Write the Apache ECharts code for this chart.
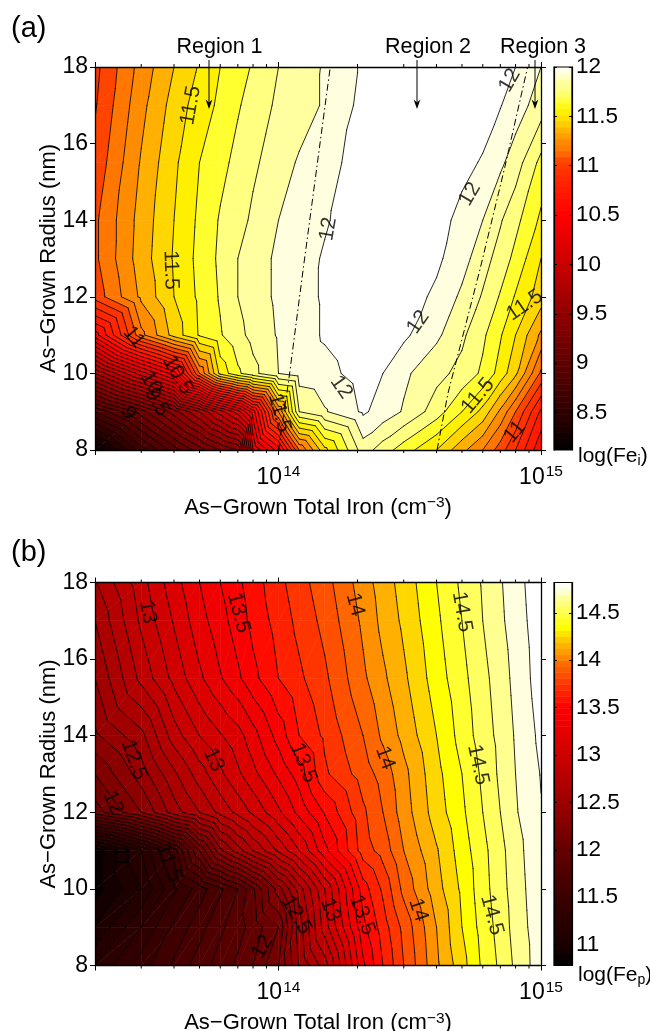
<!DOCTYPE html>
<html><head><meta charset="utf-8">
<style>html,body{margin:0;padding:0;background:#fff}#c{width:650px;height:1031px}</style>
<script src="https://cdn.jsdelivr.net/npm/echarts@6/dist/echarts.min.js"></script>
</head><body><div id="c"></div>
<script>
const irons = [2e13,3e13,4e13,5e13,6e13,7e13,8e13,1e14,1.2e14,1.5e14,2.1e14,2.5e14,3e14,4e14,5e14,6e14,7e14,8e14,1e15];
const radii = [8,9,10,11,12,13,14,15.5,17,18];
const feI = [
[8.15,8.65,8.95,9.15,9.3,9.4,10.2,10.55,11.1,11.47,11.85,11.75,11.65,11.5,11.33,11.2,11.05,10.9,10.62],
[8.8,9.15,9.45,9.7,9.95,10.15,10.45,11.2,11.8,11.89,12.015,11.96,11.89,11.75,11.6,11.47,11.28,11.1,10.78],
[9.7,10.15,10.45,11.1,11.53,11.68,11.77,11.9,11.95,11.97,12.04,12.0,11.92,11.83,11.77,11.68,11.56,11.42,11.08],
[10.55,11.17,11.44,11.61,11.69,11.77,11.83,11.91,11.96,12.01,12.06,12.05,12.02,11.92,11.82,11.72,11.61,11.5,11.28],
[11.04,11.32,11.5,11.62,11.71,11.8,11.85,11.92,11.97,12.01,12.06,12.07,12.05,11.98,11.88,11.79,11.69,11.59,11.45],
[11.08,11.35,11.51,11.63,11.72,11.8,11.85,11.92,11.96,12.01,12.07,12.08,12.07,12.02,11.94,11.84,11.76,11.67,11.5],
[11.08,11.34,11.5,11.62,11.71,11.76,11.82,11.9,11.94,11.99,12.06,12.08,12.08,12.04,11.97,11.9,11.81,11.73,11.58],
[11.03,11.31,11.48,11.6,11.67,11.73,11.78,11.86,11.91,11.96,12.05,12.08,12.09,12.09,12.03,11.99,11.92,11.85,11.67],
[10.99,11.27,11.44,11.55,11.62,11.69,11.74,11.82,11.86,11.91,12.03,12.06,12.08,12.09,12.09,12.05,12.005,11.95,11.85],
[10.97,11.24,11.4,11.51,11.6,11.66,11.71,11.8,11.85,11.91,12.015,12.05,12.08,12.08,12.08,12.06,12.03,12.0,11.9]
];
const feP = [
[11.2,11.45,11.62,11.75,11.84,11.92,12.0,12.2,12.51,12.75,13.38,13.6,13.8,14.08,14.26,14.42,14.52,14.62,14.76],
[11.0,11.3,11.52,11.66,11.78,11.86,11.94,12.1,12.55,12.95,13.47,13.65,13.83,14.1,14.3,14.44,14.54,14.64,14.765],
[10.85,11.1,11.38,11.55,11.68,11.8,11.98,12.35,12.65,13.0,13.55,13.72,13.93,14.16,14.32,14.46,14.56,14.65,14.775],
[10.82,11.2,11.55,12.0,12.37,12.55,12.7,12.92,13.1,13.37,13.75,13.84,14.0,14.19,14.35,14.47,14.57,14.66,14.785],
[12.05,12.3,12.55,12.7,12.83,12.93,13.02,13.18,13.33,13.51,13.78,13.9,14.05,14.25,14.38,14.5,14.6,14.69,14.795],
[12.2,12.45,12.68,12.85,12.98,13.08,13.17,13.32,13.45,13.68,13.85,13.94,14.07,14.27,14.4,14.52,14.62,14.7,14.805],
[12.38,12.57,12.85,13.0,13.09,13.16,13.26,13.44,13.6,13.72,13.9,14.02,14.13,14.3,14.44,14.55,14.63,14.71,14.825],
[12.5,12.83,13.03,13.18,13.29,13.38,13.47,13.6,13.68,13.78,13.98,14.08,14.18,14.35,14.47,14.57,14.65,14.73,14.85],
[12.6,12.92,13.11,13.26,13.36,13.45,13.53,13.64,13.73,13.83,14.02,14.13,14.22,14.38,14.5,14.6,14.68,14.75,14.86],
[12.69,12.96,13.16,13.3,13.4,13.48,13.55,13.67,13.76,13.86,14.05,14.15,14.24,14.4,14.52,14.61,14.69,14.76,14.87]
];
const levelsI = [8.2,8.3,8.4,8.5,8.6,8.7,8.8,8.9,9,9.1,9.2,9.3,9.4,9.5,9.6,9.7,9.8,9.9,10,10.1,10.2,10.3,10.4,10.5,10.6,10.7,10.8,10.9,11,11.1,11.2,11.3,11.4,11.5,11.6,11.7,11.8,11.9,12];
const levelsP = [10.8,10.9,11,11.1,11.2,11.3,11.4,11.5,11.6,11.7,11.8,11.9,12,12.1,12.2,12.3,12.4,12.5,12.6,12.7,12.8,12.9,13,13.1,13.2,13.3,13.4,13.5,13.6,13.7,13.8,13.9,14,14.1,14.2,14.3,14.4,14.5,14.6,14.7,14.8];
const stopsI = [[8.12,'#000000'],[8.5,'#2e0000'],[9,'#5e0000'],[9.5,'#900000'],[10,'#c80000'],[10.5,'#ff0000'],[10.9,'#ff2a00'],[11.05,'#ff4400'],[11.15,'#ff7700'],[11.25,'#ff8c00'],[11.35,'#ffb000'],[11.45,'#ffd700'],[11.55,'#fff000'],[11.65,'#ffff30'],[11.75,'#ffff80'],[11.85,'#ffffa0'],[11.95,'#ffffe0'],[12,'#ffffff']];
const stopsP = [[10.78,'#000000'],[11,'#1a0000'],[11.5,'#3a0000'],[12,'#640000'],[12.5,'#9c0000'],[13,'#cc0000'],[13.5,'#ff0000'],[13.75,'#ff3500'],[13.85,'#ff5000'],[13.95,'#ff6600'],[14.05,'#ff9000'],[14.15,'#ffb000'],[14.25,'#ffd700'],[14.35,'#ffff00'],[14.45,'#ffff30'],[14.55,'#ffff60'],[14.65,'#ffff90'],[14.75,'#ffffe0'],[14.82,'#ffffff']];
const minorIrons = [3e13,4e13,5e13,6e13,7e13,8e13,9e13,2e14,3e14,4e14,5e14,6e14,7e14,8e14,9e14];
const barTicksI = [8.5,9,9.5,10,10.5,11,11.5,12];
const barTicksP = [11,11.5,12,12.5,13,13.5,14,14.5];
// [log10(iron), radius, text, rotation]
const labelsI = [
[13.666,17.0,'11.5',80],[13.59,12.7,'11.5',-88],[14.19,13.77,'12',80],[14.881,17.65,'12',60],
[14.729,14.68,'12',60],[14.532,11.34,'12',55],[14.239,9.64,'12',-55],[13.449,10.95,'11',-50],
[13.616,9.96,'10.5',-60],[13.514,9.75,'10',-60],[13.537,9.25,'9.5',-60],[13.427,8.97,'9',-60],
[14.76,9.41,'11.5',50],[14.938,11.78,'11.5',35],[14.90,8.47,'11',50],[14.004,8.97,'11.5',-75]];
const labelsP = [
[13.502,17.23,'13',-80],[13.848,17.21,'13.5',-75],[14.292,17.42,'14',-75],[14.699,17.23,'14.5',-80],
[13.449,13.37,'12.5',-70],[13.753,13.37,'13',-65],[14.095,13.29,'13.5',-68],[14.406,13.42,'14',-70],
[14.76,13.24,'14.5',-78],[13.37,12.25,'12',-65],[13.401,10.84,'11',-90],[13.582,10.68,'11.5',-70],
[14.068,9.32,'12.5',-60],[14.197,9.45,'13',-70],[14.319,9.32,'13.5',-70],[14.532,9.45,'14',-72],
[14.813,9.32,'14.5',-75],[13.939,8.49,'12',60]];
// region boundaries: [log10(iron), radius]
const boundaryLeft = [[14,8],[14.038,9.77],[14.095,12.77],[14.197,17.99]];
const boundaryRight = [[14.604,8],[14.646,9.49],[14.767,12.7],[14.862,15.38],[14.949,18]];
const regionNames = ['Region 1','Region 2','Region 3'];

const FONT = '"Liberation Sans", Arial, sans-serif';
function hex(c){return [1,3,5].map(i=>parseInt(c.substr(i,2),16));}
function colorAt(stops,v){
  if(v<=stops[0][0]) return stops[0][1];
  for(let i=1;i<stops.length;i++){
    if(v<=stops[i][0]){
      const t=(v-stops[i-1][0])/(stops[i][0]-stops[i-1][0]);
      const a=hex(stops[i-1][1]),b=hex(stops[i][1]);
      return 'rgb('+a.map((x,k)=>Math.round(x+(b[k]-x)*t)).join(',')+')';
    }
  }
  return stops[stops.length-1][1];
}
function triangles(vals){
  const out=[];
  const P=(i,j)=>[Math.log10(irons[i]),radii[j],vals[j][i]];
  for(let j=0;j<radii.length-1;j++)for(let i=0;i<irons.length-1;i++){
    out.push([P(i,j),P(i+1,j),P(i+1,j+1)]);
    out.push([P(i,j),P(i+1,j+1),P(i,j+1)]);
  }
  return out;
}
function lerp(a,b,L){const t=(L-a[2])/(b[2]-a[2]);return [a[0]+(b[0]-a[0])*t,a[1]+(b[1]-a[1])*t,L];}
function clip(poly,L,keepAbove){
  const r=[];
  for(let i=0;i<poly.length;i++){
    const a=poly[i],b=poly[(i+1)%poly.length];
    const ia=keepAbove?a[2]>=L:a[2]<=L, ib=keepAbove?b[2]>=L:b[2]<=L;
    if(ia) r.push(a);
    if(ia!==ib) r.push(lerp(a,b,L));
  }
  return r;
}
function segment(tri,L){
  const pts=[];
  for(let i=0;i<3;i++){
    const a=tri[i],b=tri[(i+1)%3];
    if((a[2]>=L)!==(b[2]>=L)) pts.push(lerp(a,b,L));
  }
  return pts.length===2?pts:null;
}
function contourSeries(vals,levels,stops,xi,yi){
  const tris=triangles(vals);
  return {
    type:'custom',xAxisIndex:xi,yAxisIndex:yi,clip:true,silent:true,z:2,
    data:[[irons[0],radii[0]]],
    renderItem(params,api){
      const pt=p=>api.coord([Math.pow(10,p[0]),p[1]]);
      const ch=[];
      for(let b=0;b<=levels.length;b++){
        const lo=b>0?levels[b-1]:-Infinity, hi=b<levels.length?levels[b]:Infinity;
        const mid=b===0?levels[0]-0.05:(b===levels.length?levels[b-1]+1:(lo+hi)/2);
        const col=colorAt(stops,mid);
        tris.forEach(t=>{
          let poly=t;
          if(lo!==-Infinity) poly=clip(poly,lo,true);
          if(poly.length&&hi!==Infinity) poly=clip(poly,hi,false);
          if(poly.length>2) ch.push({type:'polygon',shape:{points:poly.map(pt)},style:{fill:col,stroke:col,lineWidth:0.6}});
        });
      }
      levels.forEach(L=>{
        tris.forEach(t=>{
          const s=segment(t,L);
          if(s){const a=pt(s[0]),b=pt(s[1]);
            ch.push({type:'line',shape:{x1:a[0],y1:a[1],x2:b[0],y2:b[1]},style:{stroke:'#000',lineWidth:0.85,lineCap:'round'}});}
        });
      });
      return {type:'group',children:ch};
    }
  };
}
function minorTickSeries(xi,yi){
  return {type:'custom',xAxisIndex:xi,yAxisIndex:yi,clip:false,silent:true,z:9,
    data:minorIrons.map(v=>[v,radii[0]]),
    renderItem(params,api){
      const v=api.value(0),b=api.coord([v,8]),t=api.coord([v,18]);
      const st={stroke:'#000',lineWidth:1};
      return {type:'group',children:[
        {type:'line',shape:{x1:b[0],y1:b[1],x2:b[0],y2:b[1]+3},style:st},
        {type:'line',shape:{x1:t[0],y1:t[1],x2:t[0],y2:t[1]-3},style:st}]};
    }};
}
function labelSeries(list,xi,yi){
  return {type:'scatter',xAxisIndex:xi,yAxisIndex:yi,symbolSize:0,z:6,silent:true,clip:true,
    data:list.map(l=>({value:[Math.pow(10,l[0]),l[1]],
      label:{show:true,position:'inside',rotate:l[3],formatter:l[2],color:'#000',fontSize:21,fontFamily:FONT}}))};
}
function boundarySeries(list,xi,yi){
  return {type:'line',xAxisIndex:xi,yAxisIndex:yi,showSymbol:false,silent:true,z:5,
    data:list.map(p=>[Math.pow(10,p[0]),p[1]]),
    lineStyle:{color:'#000',width:1,type:[7,3,1.5,3]}};
}
function barSeries(stops,lo,hi,xi,yi){
  const n=64,cells=[];
  for(let i=0;i<n;i++) cells.push(i);
  return {type:'custom',xAxisIndex:xi,yAxisIndex:yi,silent:true,z:2,clip:true,
    data:cells.map(i=>[0,lo+(hi-lo)*i/n]),
    renderItem(params,api){
      const st=(hi-lo)/n,v=api.value(1);
      const a=api.coord([0,v]),b=api.coord([1,v+st]);
      const c=colorAt(stops,v+st/2);
      return {type:'rect',shape:{x:a[0],y:b[1],width:b[0]-a[0],height:a[1]-b[1]+0.6},style:{fill:c}};
    }};
}
const line={show:true,onZero:false,lineStyle:{color:'#000',width:1.3}};
const tickS={show:true,length:5,lineStyle:{color:'#000',width:1}};
function logAxis(grid,pos,title){
  return {type:'log',gridIndex:grid,position:pos,min:2e13,max:1e15,logBase:10,z:10,
    axisLine:line,axisTick:tickS,splitLine:{show:false},minorTick:{show:false},
    axisLabel:{show:pos==='bottom',margin:14,interval:0,hideOverlap:false,showMinLabel:true,showMaxLabel:true,
      formatter:v=>{const e=Math.round(Math.log10(v));return Math.abs(Math.log10(v)-e)<1e-6?'{b|10}{s|'+e+'}':'';},
      rich:{b:{fontSize:23,fontFamily:FONT,color:'#000'},s:{fontSize:15.5,fontFamily:FONT,color:'#000',padding:[0,0,11,1]}}},
    name:title?'{a|As\u2212Grown Total Iron (cm}{s|\u22123}{a|)}':'',nameLocation:'middle',nameGap:45,nameMoveOverlap:false,
    nameTextStyle:{rich:{a:{fontSize:22,fontFamily:FONT,color:'#000'},s:{fontSize:15.5,fontFamily:FONT,color:'#000',padding:[0,0,9,0]}}}};
}
function radAxis(grid,pos,title){
  return {type:'value',gridIndex:grid,position:pos,min:8,max:18,interval:2,z:10,
    axisLine:line,axisTick:tickS,splitLine:{show:false},
    axisLabel:{show:pos==='left',margin:7,fontSize:23,fontFamily:FONT,color:'#000'},
    name:title?'As\u2212Grown Radius (nm)':'',nameLocation:'middle',nameGap:35,nameMoveOverlap:false,
    nameTextStyle:{fontSize:22,fontFamily:FONT,color:'#000'}};
}
function barX(grid){return {type:'value',gridIndex:grid,min:0,max:1,show:false};}
function barY(grid,pos,lo,hi,ticks,lab){
  return {type:'value',gridIndex:grid,position:pos,min:lo,max:hi,z:10,
    axisLine:{show:true,onZero:false,lineStyle:{color:'#000',width:1.2}},
    axisTick:{show:true,inside:true,length:3,customValues:ticks,lineStyle:{color:'#000',width:1}},
    splitLine:{show:false},
    axisLabel:{show:lab,margin:4,fontSize:22.5,fontFamily:FONT,color:'#000',customValues:ticks,showMinLabel:true,showMaxLabel:true,formatter:v=>String(v)}};
}
const txt=(x,y,t,size,align,extra)=>({type:'text',x,y,z:50,silent:true,style:Object.assign({text:t,fontSize:size,fontFamily:FONT,fill:'#000',align:align||'left',verticalAlign:'middle'},extra||{})});
function arrow(x,y0,y1){
  return [
   {type:'line',z:50,silent:true,shape:{x1:x,y1:y0,x2:x,y2:y1-4},style:{stroke:'#000',lineWidth:1}},
   {type:'polygon',z:50,silent:true,shape:{points:[[x,y1],[x-3.4,y1-9.5],[x,y1-6.5],[x+3.4,y1-9.5]]},style:{fill:'#000'}}];
}
const subRich=(dy)=>({rich:{m:{fontSize:21,fontFamily:FONT,fill:'#000'},u:{fontSize:14,fontFamily:FONT,fill:'#000',padding:[dy,0,0,0]}}});
const gridBase={outerBoundsMode:'none',containLabel:false};
const option={
  animation:false,backgroundColor:'#fff',
  grid:[
    Object.assign({left:95,top:67,width:446,height:383},gridBase),
    Object.assign({left:95,top:582.5,width:446,height:383},gridBase),
    Object.assign({left:554,top:67,width:18,height:383},gridBase),
    Object.assign({left:554,top:582.5,width:18,height:383},gridBase)],
  xAxis:[logAxis(0,'bottom',true),logAxis(0,'top',false),logAxis(1,'bottom',true),logAxis(1,'top',false),barX(2),barX(3)],
  yAxis:[radAxis(0,'left',true),radAxis(0,'right',false),radAxis(1,'left',true),radAxis(1,'right',false),
    barY(2,'right',8.12,12,barTicksI,true),barY(2,'left',8.12,12,barTicksI,false),
    barY(3,'right',10.78,14.82,barTicksP,true),barY(3,'left',10.78,14.82,barTicksP,false)],
  series:[
    contourSeries(feI,levelsI,stopsI,0,0),
    contourSeries(feP,levelsP,stopsP,2,2),
    minorTickSeries(0,0),minorTickSeries(2,2),
    boundarySeries(boundaryLeft,0,0),boundarySeries(boundaryRight,0,0),
    labelSeries(labelsI,0,0),labelSeries(labelsP,2,2),
    barSeries(stopsI,8.12,12,4,4),barSeries(stopsP,10.78,14.82,5,6)
  ],
  graphic:{elements:[
    txt(11,29,'(a)',29),txt(11,553,'(b)',29),
    txt(219.5,47,regionNames[0],21.5,'center'),txt(428,47,regionNames[1],21.5,'center'),txt(543,47,regionNames[2],21.5,'center'),
    ...arrow(209,60,109),...arrow(417,60,109),...arrow(535,60,109),
    {type:'rect',z:50,silent:true,shape:{x:554,y:67,width:18,height:383},style:{fill:null,stroke:'#000',lineWidth:1.2}},
    {type:'rect',z:50,silent:true,shape:{x:554,y:582.5,width:18,height:383},style:{fill:null,stroke:'#000',lineWidth:1.2}},
    {type:'text',x:578,y:456,z:50,silent:true,style:Object.assign({text:'{m|log(Fe}{u|i}{m|)}',verticalAlign:'middle'},subRich(10))},
    {type:'text',x:578,y:975,z:50,silent:true,style:Object.assign({text:'{m|log(Fe}{u|p}{m|)}',verticalAlign:'middle'},subRich(10))}
  ]}
};
echarts.init(document.getElementById('c'),null,{renderer:'canvas'}).setOption(option);
</script></body></html>
